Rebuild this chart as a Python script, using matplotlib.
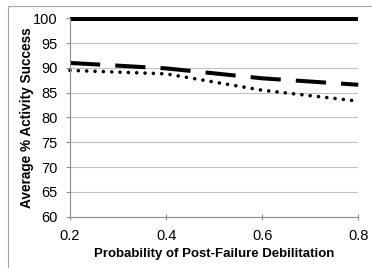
import matplotlib
matplotlib.use("Agg")
import matplotlib.pyplot as plt
from matplotlib.patches import Rectangle

x_vals = [0.2, 0.4, 0.6, 0.8]
solid_series = [99.9, 99.9, 99.9, 99.9]
dashed_series = [91.0, 89.9, 87.9, 86.6]
dotted_series = [89.5, 88.8, 85.5, 83.3]
x_ticks = [0.2, 0.4, 0.6, 0.8]
y_ticks = [60, 65, 70, 75, 80, 85, 90, 95, 100]

plt.rcParams['font.family'] = ['Liberation Sans', 'DejaVu Sans']

W, H = 372, 268
fig = plt.figure(figsize=(W / 100, H / 100), dpi=100)
fig.patch.set_facecolor('white')

# outer chart border (cropped on right and bottom)
fig.add_artist(Rectangle((8 / W, -0.05), (380 - 8) / W, 1 - 6 / H + 0.05,
                         transform=fig.transFigure, fill=False,
                         edgecolor='#a6a6a6', linewidth=0.8))

left, right = 70 / W, 358.3 / W
bottom, top = 1 - 216.7 / H, 1 - 18.3 / H
ax = fig.add_axes([left, bottom, right - left, top - bottom])

ax.set_xlim(0.2, 0.8)
ax.set_ylim(60, 100)
ax.set_xticks(x_ticks)
ax.set_xticklabels([f"{v:.1f}" for v in x_ticks])
ax.set_yticks(y_ticks)
ax.set_yticklabels([str(v) for v in y_ticks])

ax.yaxis.grid(True, color='#c0c0c0', linewidth=0.8)
ax.set_axisbelow(True)
for s in ['top', 'right']:
    ax.spines[s].set_visible(False)
for s in ['left', 'bottom']:
    ax.spines[s].set_color('#8c8c8c')
    ax.spines[s].set_linewidth(0.8)

ax.tick_params(axis='x', direction='inout', length=5, color='#8c8c8c',
               labelsize=10.5, pad=6)
ax.tick_params(axis='y', direction='out', length=3, color='#8c8c8c',
               labelsize=10.5, pad=6)

lw = 2.9
ax.plot(x_vals, solid_series, color='black', linewidth=lw,
        solid_capstyle='butt', clip_on=False)
ax.plot(x_vals, dashed_series, color='black', linewidth=lw,
        dashes=(7.5, 3.75), dash_capstyle='butt', clip_on=False)
ax.plot(x_vals, dotted_series, color='black', linewidth=2.6,
        dashes=(0.01, 2.3), dash_capstyle='round', clip_on=False)

ax.set_xlabel('Probability of Post-Failure Debilitation', fontsize=9.5,
              fontweight='bold', labelpad=4)
ax.set_ylabel('Average % Activity Success', fontsize=9.8,
              fontweight='bold', labelpad=-1)

fig.savefig('out.png', dpi=100, facecolor='white')
